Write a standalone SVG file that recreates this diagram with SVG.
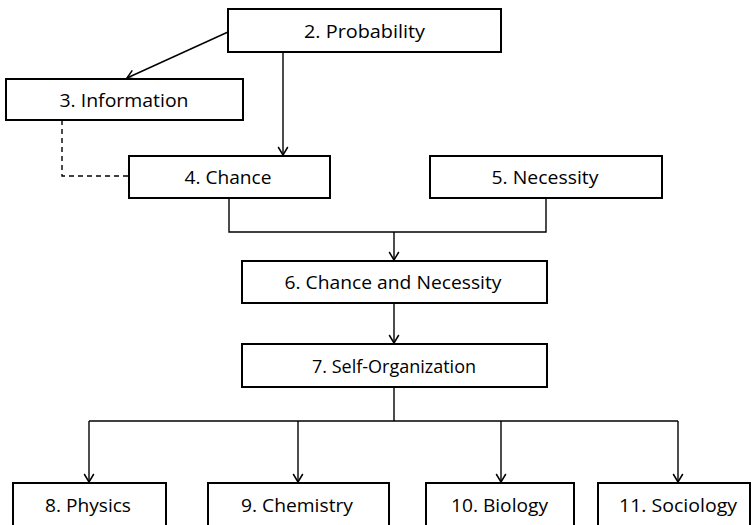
<svg xmlns="http://www.w3.org/2000/svg" width="753" height="525" viewBox="0 0 753 525">
  <style>
    .box { fill: #ffffff; stroke: #000000; stroke-width: 2; }
    .lbl { font-family: "Open Sans", "Liberation Sans", sans-serif; font-size: 19px; fill: #000000; text-anchor: middle; }
    .wire { fill: none; stroke: #000000; stroke-width: 1.4; }
    .arrow { marker-end: url(#head); }
    .dash { stroke-dasharray: 5 4; }
  </style>
  <defs>
    <marker id="head" markerUnits="userSpaceOnUse" markerWidth="12" markerHeight="12" viewBox="-10 -6 12 12" refX="0" refY="0" orient="auto">
      <path d="M -8 -4.8 L 0 0 L -8 4.8" fill="none" stroke="#000000" stroke-width="1.5"/>
    </marker>
  </defs>

  <rect width="753" height="525" fill="#ffffff"/>

  <g id="connectors">
    <line class="wire arrow" x1="228" y1="32" x2="127" y2="78"/>
    <line class="wire arrow" x1="283" y1="52" x2="283" y2="155"/>
    <polyline class="wire dash" points="62,120 62,176 129,176"/>
    <polyline class="wire" points="229,198 229,232 546,232 546,198"/>
    <line class="wire arrow" x1="394" y1="232" x2="394" y2="260"/>
    <line class="wire arrow" x1="394" y1="303" x2="394" y2="343"/>
    <line class="wire" x1="394" y1="387" x2="394" y2="421"/>
    <line class="wire" x1="89" y1="421" x2="678" y2="421"/>
    <line class="wire arrow" x1="89" y1="421" x2="89" y2="482"/>
    <line class="wire arrow" x1="298" y1="421" x2="298" y2="482"/>
    <line class="wire arrow" x1="501" y1="421" x2="501" y2="482"/>
    <line class="wire arrow" x1="678" y1="421" x2="678" y2="482"/>
  </g>

  <g id="n2">
    <rect class="box" x="228" y="9" width="273" height="43"/>
    <text class="lbl" x="364.5" y="37.5" textLength="121" lengthAdjust="spacingAndGlyphs">2. Probability</text>
  </g>
  <g id="n3">
    <rect class="box" x="6" y="79" width="237" height="41"/>
    <text class="lbl" x="124" y="106.5" textLength="129" lengthAdjust="spacingAndGlyphs">3. Information</text>
  </g>
  <g id="n4">
    <rect class="box" x="129" y="156" width="201" height="42"/>
    <text class="lbl" x="228" y="184" textLength="87" lengthAdjust="spacingAndGlyphs">4. Chance</text>
  </g>
  <g id="n5">
    <rect class="box" x="430" y="156" width="232" height="42"/>
    <text class="lbl" x="545" y="184" textLength="107" lengthAdjust="spacingAndGlyphs">5. Necessity</text>
  </g>
  <g id="n6">
    <rect class="box" x="242" y="261" width="305" height="42"/>
    <text class="lbl" x="393" y="289" textLength="217" lengthAdjust="spacingAndGlyphs">6. Chance and Necessity</text>
  </g>
  <g id="n7">
    <rect class="box" x="242" y="344" width="305" height="43"/>
    <text class="lbl" x="394" y="372.5" textLength="164" lengthAdjust="spacingAndGlyphs">7. Self-Organization</text>
  </g>
  <g id="n8">
    <rect class="box" x="13" y="483" width="153" height="44"/>
    <text class="lbl" x="88" y="511.5" textLength="86" lengthAdjust="spacingAndGlyphs">8. Physics</text>
  </g>
  <g id="n9">
    <rect class="box" x="208" y="483" width="181" height="44"/>
    <text class="lbl" x="297" y="511.5" textLength="112" lengthAdjust="spacingAndGlyphs">9. Chemistry</text>
  </g>
  <g id="n10">
    <rect class="box" x="426" y="483" width="148" height="44"/>
    <text class="lbl" x="499.5" y="511.5" textLength="97" lengthAdjust="spacingAndGlyphs">10. Biology</text>
  </g>
  <g id="n11">
    <rect class="box" x="598" y="483" width="152" height="44"/>
    <text class="lbl" x="678" y="511.5" textLength="118" lengthAdjust="spacingAndGlyphs">11. Sociology</text>
  </g>
</svg>
